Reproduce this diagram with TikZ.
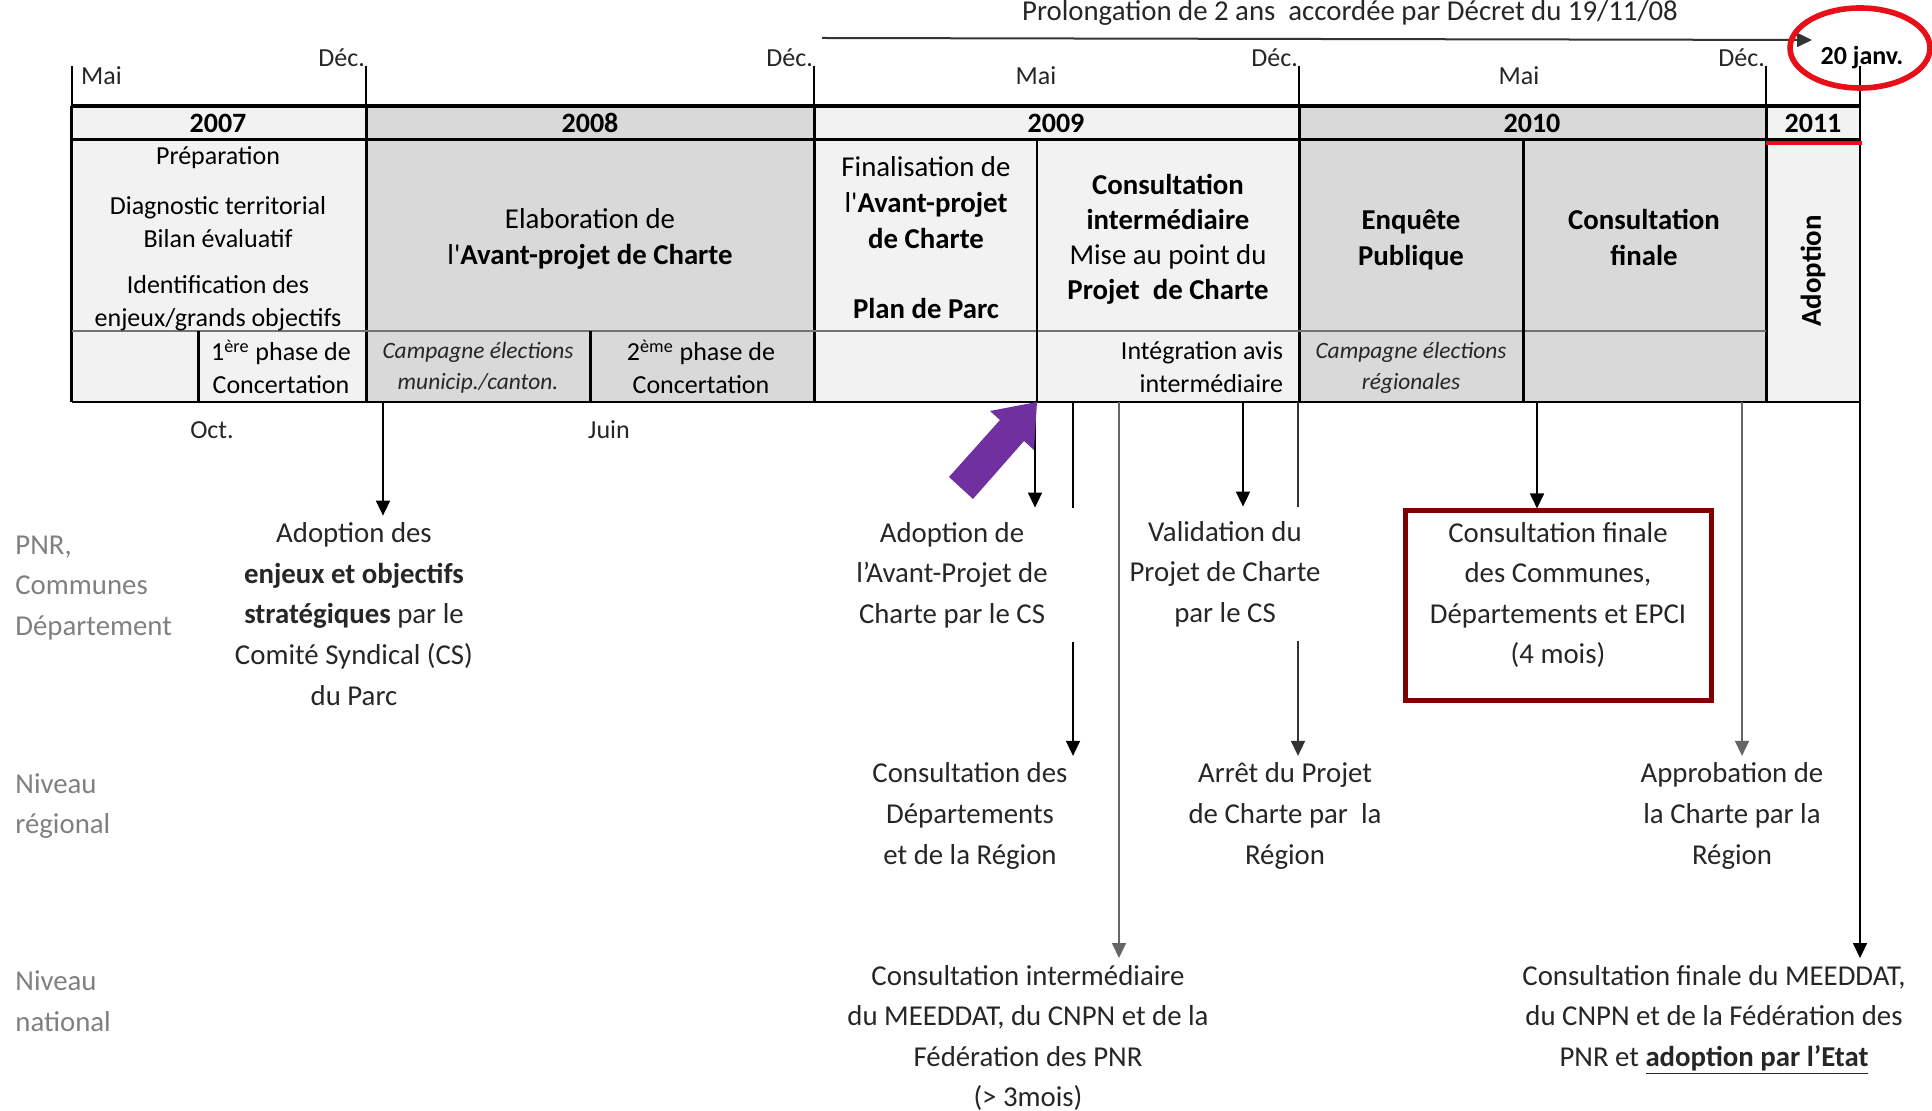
\documentclass[tikz,border=0pt]{standalone}
\usepackage{fontspec}
\setmainfont{Carlito}
\usetikzlibrary{arrows.meta}
\definecolor{celllite}{HTML}{F2F2F2}
\definecolor{cellgray}{HTML}{D9D9D9}
\definecolor{ink}{HTML}{262626}
\definecolor{lvlgray}{HTML}{808080}
\definecolor{boxred}{HTML}{7F0000}
\definecolor{purp}{HTML}{7030A0}
\definecolor{ringred}{HTML}{E81018}
\begin{document}
\begin{tikzpicture}[x=0.5pt, y=-0.5pt,
  month/.style={font=\fontsize{13}{15}\selectfont, text=ink},
  year/.style={font=\fontsize{14}{16}\selectfont\bfseries, text=black},
  cell/.style={align=center, font=\fontsize{14.4}{18}\selectfont, text=black},
  cellsm/.style={align=center, font=\fontsize{13}{16.5}\selectfont, text=black},
  camp/.style={align=center, font=\fontsize{11.7}{15.5}\selectfont\itshape, text=ink},
  note/.style={align=center, font=\fontsize{14.4}{20.3}\selectfont, text=ink},
  lvl/.style={align=left, anchor=west, inner sep=0pt, font=\fontsize{14.4}{20.3}\selectfont, text=lvlgray},
  arr/.style={-{Triangle[length=7.5pt,width=7pt]}, line width=0.8pt},
  link/.style={line width=0.8pt}]
\useasboundingbox (0,0) rectangle (1932,1111);

% table fills
\foreach \xa/\xb/\col in {71.5/366/celllite, 366/814/cellgray, 814/1299/celllite, 1299/1766/cellgray, 1766/1860/celllite}
  \fill[\col] (\xa,106) rectangle (\xb,402);

% table lines
\foreach \xx in {71.5,366,814,1299,1766} {
  \draw[line width=1pt] (\xx,66) -- (\xx,106);
  \draw[line width=1.5pt] (\xx,106) -- (\xx,402);
}
\draw[line width=0.8pt] (1860,66) -- (1860,402);
\draw[line width=1.6pt] (71.5,106) -- (1860,106);
\draw[line width=1.5pt] (71.5,140) -- (1860,140);
\draw[black!55, line width=0.6pt] (71.5,331) -- (1766,331);
\draw[line width=1pt] (71.5,402) -- (1860,402);
\draw[line width=1.5pt] (198,331) -- (198,402);
\draw[line width=1.5pt] (590,331) -- (590,402);
\draw[line width=0.8pt] (1037,140) -- (1037,402);
\draw[line width=1.5pt] (1523,140) -- (1523,402);
\draw[ringred, line width=2.2pt] (1766,143) -- (1862,143);

% timeline labels
\node[font=\fontsize{14.4}{17}\selectfont, text=ink] (prol) at (1350,13) {Prolongation de 2 ans\ \ accordée par Décret du 19/11/08};
\coordinate (p0) at (822,38);
\coordinate (p1) at (1812,40);
\draw[-{Triangle[length=7.5pt,width=7pt]}, line width=1pt, black!80] (p0) -- (p1);
\node[month, anchor=west] (mai1) at (74,76) {Mai};
\node[month, anchor=east] (dec1) at (372,58) {Déc.};
\node[month, anchor=east] (dec2) at (820,58) {Déc.};
\node[month] (mai2) at (1036,76) {Mai};
\node[month, anchor=east] (dec3) at (1305,58) {Déc.};
\node[month] (mai3) at (1519,76) {Mai};
\node[month, anchor=east] (dec4) at (1772,58) {Déc.};
\node[month, font=\fontsize{13}{15}\selectfont\bfseries, text=black] (janv) at (1862,58) {20 janv.};
\draw[ringred, line width=2.8pt] (1860,48) ellipse [x radius=70, y radius=40];

\node[year] (y07) at (218,123) {2007};
\node[year] (y08) at (590,123) {2008};
\node[year] (y09) at (1056,123) {2009};
\node[year] (y10) at (1532,123) {2010};
\node[year] (y11) at (1813,123) {2011};

% main row
\node[cellsm] (prep) at (218,239) {Préparation\\[8.5pt]Diagnostic territorial\\Bilan évaluatif\\[6.5pt]Identification des\\enjeux/grands objectifs};
\node[cell] (elab) at (590,239) {Elaboration de\\l\textquotesingle\textbf{Avant-projet de Charte}};
\node[cell] (fin) at (926,238) {Finalisation de\\l\textquotesingle\textbf{Avant-projet}\\\textbf{de Charte}\\[17pt]\textbf{Plan de Parc}};
\node[cell, font=\fontsize{14.4}{17.5}\selectfont] (cint) at (1168,239) {\textbf{Consultation}\\\textbf{intermédiaire}\\Mise au point du\\\textbf{Projet\ \ de Charte}};
\node[cell] (enq) at (1411,240) {\textbf{Enquête}\\\textbf{Publique}};
\node[cell] (cfin) at (1644,237) {\textbf{Consultation}\\\textbf{finale}};
\node[cell, font=\fontsize{14.4}{18}\selectfont\bfseries, rotate=90] (adopt) at (1813,271) {Adoption};

% bottom row
\node[cellsm] (ph1) at (281,367) {1\textsuperscript{ère} phase de\\Concertation};
\node[camp] (camp1) at (478,368) {Campagne élections\\municip./canton.};
\node[cellsm] (ph2) at (701,367) {2\textsuperscript{ème} phase de\\Concertation};
\node[cellsm, align=right, anchor=east] (integ) at (1290,367) {Intégration avis\\intermédiaire};
\node[camp] (camp2) at (1411,368) {Campagne élections\\régionales};

\node[month] (oct) at (212,430) {Oct.};
\node[month] (juin) at (609,430) {Juin};

% levels
\node[lvl] (lvpnr) at (15,588) {PNR,\\Communes\\Département};
\node[lvl] (lvreg) at (15,806) {Niveau\\régional};
\node[lvl] (lvnat) at (15,1001) {Niveau\\national};

% steps
\node[note] (aenj) at (354,614) {Adoption des\\\textbf{enjeux et objectifs}\\\textbf{stratégiques} par le\\Comité Syndical (CS)\\du Parc};
\node[note, minimum height=67pt] (aap) at (952,575) {Adoption de\\l’Avant-Projet de\\Charte par le CS};
\node[note, minimum height=67pt] (valid) at (1225,574) {Validation du\\Projet de Charte\\par le CS};
\node[note, draw=boxred, line width=2.5pt, minimum width=153pt, minimum height=95pt, text depth=13pt] (cfcom) at (1558,606) {Consultation finale\\des Communes,\\Départements et EPCI\\(4 mois)};
\node[note] (cdep) at (970,816) {Consultation des\\Départements\\et de la Région};
\node[note] (arret) at (1285,816) {Arrêt du Projet\\de Charte par\ \ la\\Région};
\node[note] (approb) at (1732,816) {Approbation de\\la Charte par la\\Région};
\node[note] (cinat) at (1028,1038) {Consultation intermédiaire\\du MEEDDAT, du CNPN et de la\\Fédération des PNR\\(> 3mois)};
\node[note] (cfnat) at (1714,1020) {Consultation finale du MEEDDAT,\\du CNPN et de la Fédération des\\PNR et \textbf{\underline{adoption par l’Etat}}};

% connectors
\coordinate (s1) at (383,402);
\coordinate (s2) at (1035,402);
\coordinate (s3) at (1073,402);
\coordinate (s4) at (1119,402);
\coordinate (s5) at (1243,402);
\coordinate (s6) at (1298,402);
\coordinate (s7) at (1537,402);
\coordinate (s8) at (1742,402);
\coordinate (s9) at (1860,402);
\draw[arr] (s1) -- (s1 |- aenj.north);
\draw[arr] (s2) -- (s2 |- aap.north);
\draw[link] (s3) -- (s3 |- aap.north);
\draw[arr] (s3 |- aap.south) -- (s3 |- cdep.north);
\draw[arr, draw=black!60] (s4) -- (s4 |- cinat.north);
\draw[arr] (s5) -- (s5 |- valid.north);
\draw[link, black!80] (s6) -- (s6 |- valid.north);
\draw[arr, draw=black!80] (s6 |- valid.south) -- (s6 |- arret.north);
\draw[arr] (s7) -- (s7 |- cfcom.north);
\draw[arr, draw=black!60] (s8) -- (s8 |- approb.north);
\draw[arr] (s9) -- (s9 |- cfnat.north);

\fill[purp] (1037,402) -- (1034,450) -- (1024,441) -- (973,499) -- (949,477) -- (1000,420) -- (990,411) -- cycle;
\end{tikzpicture}
\end{document}
